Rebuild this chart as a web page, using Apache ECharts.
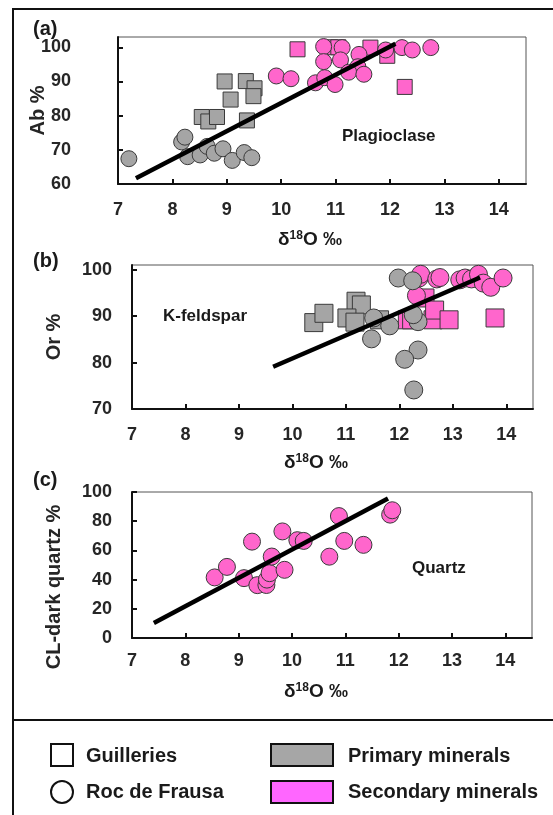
<!DOCTYPE html>
<html>
<head>
<meta charset="utf-8">
<script src="https://cdn.jsdelivr.net/npm/echarts@6/dist/echarts.min.js"></script>
<style>
  html, body { margin: 0; padding: 0; background: #fff; }
  #chart { width: 553px; height: 815px; }
</style>
</head>
<body>
<div id="chart"></div>
<script>
// (a) Plagioclase : [d18O, Ab %]
const plagGuillPrim = [[8.96, 90], [9.35, 90.1], [9.51, 88], [9.07, 84.7], [9.49, 85.7], [8.54, 79.6], [8.66, 78.3], [8.82, 79.6], [9.37, 78.6]]
const plagRocPrim = [[7.2, 67.4], [8.17, 72.3], [8.23, 73.7], [8.28, 68], [8.51, 68.5], [8.64, 71], [8.77, 69], [8.93, 70.3], [9.1, 66.9], [9.32, 69.2], [9.46, 67.7]]
const plagGuillSec = [[10.3, 99.4], [10.9, 100], [11.05, 100], [11.64, 99.9], [11.95, 97.5], [12.27, 88.4]]
const plagRocSec = [[9.91, 91.6], [10.18, 90.8], [10.63, 89.6], [10.78, 100.2], [10.78, 95.8], [10.8, 91.1], [10.99, 89.1], [11.12, 99.9], [11.09, 96.3], [11.43, 97.9], [11.41, 94.3], [11.24, 92.7], [11.52, 92.1], [11.92, 99.2], [12.22, 99.9], [12.41, 99.2], [12.75, 99.9]]
const plagTrend = [[7.33, 61.7], [12.1, 101]]

// (b) K-feldspar : [d18O, Or %]
const kfsGuillPrim = [[10.4, 88.6], [10.59, 90.6], [11.19, 93.2], [11.29, 92.4], [11.02, 89.6], [11.17, 88.7], [11.63, 89.2]]
const kfsRocPrim = [[11.98, 98.2], [12.25, 97.6], [11.52, 89.6], [11.82, 87.9], [11.48, 85.1], [12.35, 88.8], [12.26, 90.3], [12.35, 82.7], [12.1, 80.7], [12.27, 74.1]]
const kfsGuillSec = [[12.15, 89.2], [12.23, 89.2], [12.48, 93.9], [12.63, 89.2], [12.66, 91.3], [12.93, 89.2], [13.79, 89.6]]
const kfsRocSec = [[12.37, 98.2], [12.4, 99], [12.32, 94.4], [12.7, 98], [12.76, 98.3], [13.13, 97.8], [13.23, 98.2], [13.35, 98], [13.48, 99], [13.57, 97.1], [13.71, 96.2], [13.94, 98.2]]
const kfsTrend = [[9.64, 79.1], [13.51, 98.3]]

// (c) Quartz : [d18O, CL-dark quartz %]
const qzRocSec = [[8.55, 41.5], [8.78, 48.7], [9.1, 41], [9.25, 66], [9.35, 36.2], [9.52, 36.3], [9.53, 40], [9.58, 44.4], [9.62, 55.8], [9.82, 73], [9.86, 46.7], [10.1, 67], [10.22, 66.5], [10.7, 55.7], [10.88, 83.5], [10.98, 66.5], [11.34, 63.8], [11.84, 84.5], [11.88, 87.5]]
const qzTrend = [[7.41, 10.2], [11.8, 95.5]]

const panelNames = ['(a)', '(b)', '(c)']
const yNames = ['Ab %', 'Or %', 'CL-dark quartz %']
const mineralNames = ['Plagioclase', 'K-feldspar', 'Quartz']
const legendNames = ['Guilleries', 'Roc de Frausa', 'Primary minerals', 'Secondary minerals']

const FONT = '"Liberation Sans", Arial, sans-serif'
const GREY = '#a5a5a5'
const PINK = '#ff66cc'
const EDGE = '#3a3a3a'

const chart = echarts.init(document.getElementById('chart'))

const grids = [
  { left: 118, top: 37, width: 408, height: 147 },
  { left: 132, top: 265, width: 401, height: 144 },
  { left: 132, top: 492, width: 400, height: 146 }
].map(g => ({ ...g, show: true, borderColor: '#555', borderWidth: 1, backgroundColor: '#fff' }))

const tickLabel = { fontFamily: FONT, fontWeight: 'bold', fontSize: 18, color: '#262626' }

const xAxes = [0, 1, 2].map(i => ({
  gridIndex: i,
  type: 'value',
  min: 7,
  max: 14.5,
  interval: 1,
  axisLine: { show: true, onZero: false, lineStyle: { color: '#111', width: 2 } },
  axisTick: { show: true, inside: true, length: 5, lineStyle: { color: '#111', width: 2 } },
  axisLabel: { ...tickLabel, margin: [17, 17, 14][i], showMaxLabel: false },
  splitLine: { show: false }
}))

const yRanges = [[60, 103, 10], [70, 101, 10], [0, 100, 20]]
const yAxes = yRanges.map((r, i) => ({
  gridIndex: i,
  type: 'value',
  min: r[0],
  max: r[1],
  interval: r[2],
  name: yNames[i],
  nameLocation: 'middle',
  nameRotate: 90,
  nameMoveOverlap: false,
  nameGap: [70, 68, 68][i],
  nameTextStyle: {
    fontFamily: FONT, fontWeight: 'bold', fontSize: 20, color: '#262626',
    // push the quartz label a bit down, like the original
    padding: i === 2 ? [0, 44, 0, 0] : 0
  },
  axisLine: { show: true, onZero: false, lineStyle: { color: '#111', width: 2 } },
  axisTick: { show: true, inside: true, length: 5, lineStyle: { color: '#111', width: 2 } },
  axisLabel: { ...tickLabel, margin: i === 0 ? 47 : 20, showMaxLabel: i === 2 },
  splitLine: { show: false }
}))

// marker series
const pts = (data, idx, symbol, color, size) => ({
  type: 'scatter',
  xAxisIndex: idx,
  yAxisIndex: idx,
  data: data,
  symbol: symbol,
  symbolSize: size,
  itemStyle: { color: color, borderColor: EDGE, borderWidth: 1, opacity: 1 },
  emphasis: { disabled: true },
  silent: true
})
const trend = (data, idx) => ({
  type: 'line',
  xAxisIndex: idx,
  yAxisIndex: idx,
  data: data,
  showSymbol: false,
  lineStyle: { color: '#000', width: 4.5 },
  z: 5,
  silent: true
})

const series = [
  pts(plagGuillSec, 0, 'rect', PINK, 15),
  pts(plagGuillPrim, 0, 'rect', GREY, 15),
  pts(plagRocSec, 0, 'circle', PINK, 16),
  pts(plagRocPrim, 0, 'circle', GREY, 16),
  trend(plagTrend, 0),
  pts(kfsGuillSec, 1, 'rect', PINK, 18),
  pts(kfsGuillPrim, 1, 'rect', GREY, 18),
  pts(kfsRocSec, 1, 'circle', PINK, 18),
  pts(kfsRocPrim, 1, 'circle', GREY, 18),
  trend(kfsTrend, 1),
  pts(qzRocSec, 2, 'circle', PINK, 17),
  trend(qzTrend, 2)
]

const txt = (x, y, text, size, weight, align) => ({
  type: 'text', x: x, y: y, z: 10,
  style: { text: text, fontFamily: FONT, fontSize: size, fontWeight: weight || 'bold', fill: '#1a1a1a', align: align || 'left', verticalAlign: 'middle' }
})
// δ18O ‰ with superscript
const d18O = (x, y) => ({
  type: 'text', x: x, y: y, z: 10,
  style: {
    text: '{a|δ}{s|18}{a|O ‰}',
    align: 'center', verticalAlign: 'middle',
    rich: {
      a: { fontFamily: FONT, fontWeight: 'bold', fontSize: 19, fill: '#1a1a1a' },
      s: { fontFamily: FONT, fontWeight: 'bold', fontSize: 12, fill: '#1a1a1a', verticalAlign: 'top', padding: [0, 0, 8, 0] }
    }
  }
})

const graphic = [
  // outer frame and divider
  { type: 'rect', shape: { x: 13, y: 9, width: 620, height: 860 }, style: { fill: 'none', stroke: '#111', lineWidth: 2 }, z: 1 },
  { type: 'line', shape: { x1: 13, y1: 720, x2: 560, y2: 720 }, style: { stroke: '#111', lineWidth: 2 }, z: 1 },
  txt(33, 29, panelNames[0], 20),
  txt(33, 261, panelNames[1], 20),
  txt(33, 480, panelNames[2], 20),
  txt(342, 136, mineralNames[0], 17),
  txt(163, 316, mineralNames[1], 17),
  txt(412, 568, mineralNames[2], 17),
  d18O(310, 240),
  d18O(316, 463),
  d18O(316, 692),
  // legend
  { type: 'rect', shape: { x: 51, y: 744, width: 22, height: 22 }, style: { fill: '#fff', stroke: '#111', lineWidth: 2 }, z: 10 },
  { type: 'circle', shape: { cx: 62, cy: 792, r: 11 }, style: { fill: '#fff', stroke: '#111', lineWidth: 2 }, z: 10 },
  { type: 'rect', shape: { x: 271, y: 744, width: 62, height: 22 }, style: { fill: '#a6a6a6', stroke: '#111', lineWidth: 2 }, z: 10 },
  { type: 'rect', shape: { x: 271, y: 781, width: 62, height: 22 }, style: { fill: '#ff66ff', stroke: '#111', lineWidth: 2 }, z: 10 },
  txt(86, 756, legendNames[0], 20),
  txt(86, 792, legendNames[1], 20),
  txt(348, 756, legendNames[2], 20),
  txt(348, 792, legendNames[3], 20)
]

chart.setOption({
  animation: false,
  grid: grids,
  xAxis: xAxes,
  yAxis: yAxes,
  series: series,
  graphic: graphic
})
</script>
</body>
</html>
